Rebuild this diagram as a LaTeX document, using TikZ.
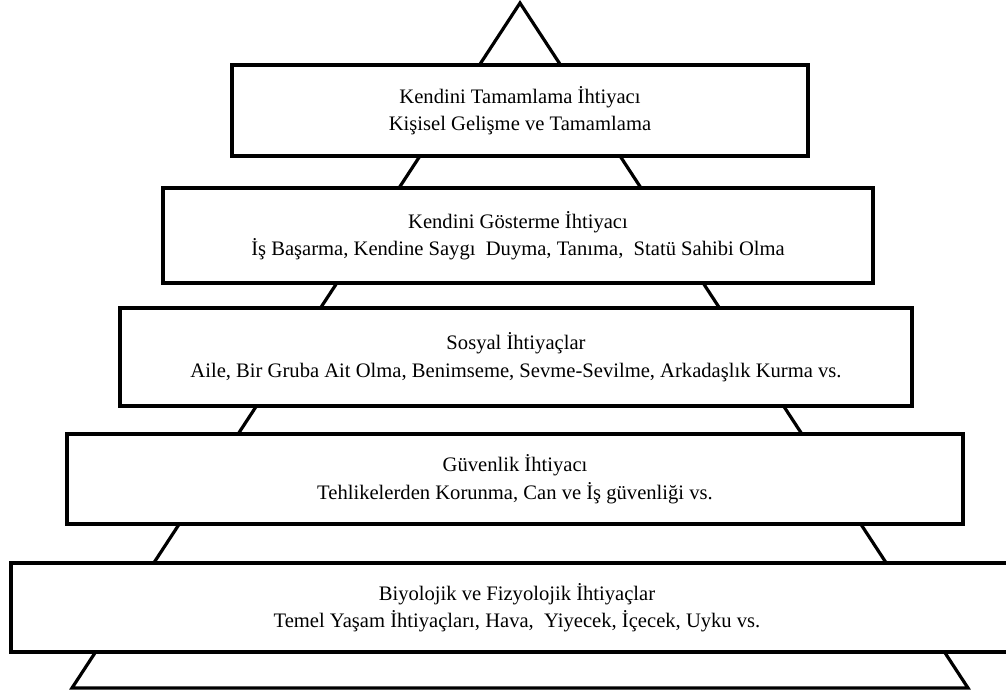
\documentclass[tikz,border=0pt]{standalone}
\usepackage{fontspec}
\setmainfont{Liberation Serif}
\usepackage{tikz}
\usetikzlibrary{positioning}
\tikzset{
  katman/.style={draw,fill=white,line width=3.2pt,inner sep=0pt,
    align=center,font=\fontsize{20.6}{27.5}\selectfont}
}

\begin{document}
\begin{tikzpicture}[x=1pt,y=-1pt,line width=3.2pt]
      \useasboundingbox (0,0) rectangle (1006,693);
      % piramit
      \coordinate (tepe) at (520,3);
      \coordinate (solalt) at (72,688);
      \coordinate (sagalt) at (968,688);
      \draw (tepe)--(solalt)--(sagalt)--cycle;
      % basamaklar
      \node[katman,minimum width=576pt,minimum height=91pt] (tamamlama) at (520,110.5)
        {Kendini Tamamlama İhtiyacı\\Kişisel Gelişme ve Tamamlama};
      \node[katman,minimum width=710pt,minimum height=95pt] (gosterme) at (518,235.5)
        {Kendini Gösterme İhtiyacı\\İş Başarma, Kendine Saygı\ \ Duyma, Tanıma,\ \ Statü Sahibi Olma};
      \node[katman,minimum width=792pt,minimum height=98pt] (sosyal) at (516,357)
        {Sosyal İhtiyaçlar\\Aile, Bir Gruba Ait Olma, Benimseme, Sevme-Sevilme, Arkadaşlık Kurma vs.};
      \node[katman,minimum width=896pt,minimum height=90pt] (guvenlik) at (515,479)
        {Güvenlik İhtiyacı\\Tehlikelerden Korunma, Can ve İş güvenliği vs.};
      \node[katman,minimum width=1012pt,minimum height=89pt] (biyolojik) at (517,607.5)
        {Biyolojik ve Fizyolojik İhtiyaçlar\\Temel Yaşam İhtiyaçları, Hava,\ \ Yiyecek, İçecek, Uyku vs.};
    \end{tikzpicture}
\end{document}
